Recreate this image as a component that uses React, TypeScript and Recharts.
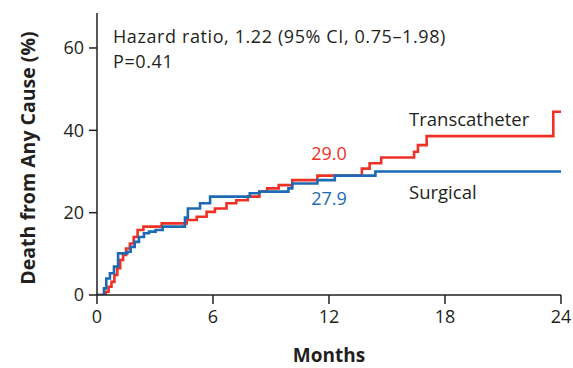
import { Label, Line, LineChart, ReferenceDot, XAxis, YAxis } from "recharts"

// Kaplan-Meier cumulative incidence, death from any cause
const monthTicks = [0, 6, 12, 18, 24]
const pctTicks = [0, 20, 40, 60]

const transcatheterMonths = [
  0, 0.45, 0.6, 0.75, 0.9, 1.05, 1.2, 1.35, 1.5, 1.7, 1.9, 2.1, 2.4, 3.35, 4.64, 5.16, 5.67, 6.1, 6.7,
  7.2, 7.8, 8.4, 8.8, 9.4, 10.1, 11.4, 13.7, 14.1, 14.7, 16.4, 16.6, 17.05, 23.6, 24,
]
const transcatheterPct = [
  0, 0.8, 2.0, 3.2, 4.9, 6.5, 8.5, 9.7, 11.3, 12.5, 14.1, 15.8, 16.6, 17.4, 18.2, 19.0, 20.2, 21.0, 22.3,
  23.0, 23.9, 25.1, 25.9, 26.7, 27.9, 29.0, 30.7, 32.0, 33.4, 34.8, 36.4, 38.6, 44.5, 44.5,
]

const surgicalMonths = [
  0, 0.36, 0.48, 0.67, 0.88, 1.09, 1.57, 1.74, 1.95, 2.17, 2.43, 2.69, 3.03, 3.4, 4.55, 4.7, 5.33, 5.85,
  7.9, 8.4, 9.9, 10.1, 11.4, 12.3, 14.4, 24,
]
const surgicalPct = [
  0, 1.6, 4.0, 5.3, 6.9, 10.1, 10.5, 11.7, 12.9, 14.1, 15.0, 15.4, 15.8, 16.6, 18.8, 21.0, 22.3, 23.9,
  24.7, 25.1, 25.9, 27.1, 27.9, 29.0, 30.0, 30.0,
]

const transcatheter = transcatheterMonths.map((m, i) => ({ month: m, pct: transcatheterPct[i] }))
const surgical = surgicalMonths.map((m, i) => ({ month: m, pct: surgicalPct[i] }))

const RED = "#ee3124"
const BLUE = "#1d6ab4"
const INK = "#231f20"
const FONT = "'Open Sans', sans-serif"

const tickStyle = { fontSize: 18, fill: INK, fontFamily: FONT }

export default function App() {
  return (
    <div
      style={{
        position: "absolute",
        left: 0,
        top: 0,
        width: 573,
        height: 368,
        background: "#fff",
        fontFamily: FONT,
        color: INK,
      }}
    >
      <LineChart width={573} height={368} margin={{ top: 13, right: 12, bottom: 0, left: 0 }}>
        <XAxis
          type="number"
          dataKey="month"
          domain={[0, 24]}
          ticks={monthTicks}
          allowDataOverflow
          height={73}
          tickSize={9}
          tickMargin={6}
          tick={tickStyle}
          axisLine={{ stroke: INK, strokeWidth: 1.5 }}
          tickLine={{ stroke: INK, strokeWidth: 1.5 }}
        >
          <Label
            value="Months"
            position="insideBottom"
            offset={6}
            style={{ fontSize: 19, fontWeight: 700, fill: INK, fontFamily: FONT }}
          />
        </XAxis>
        <YAxis
          type="number"
          dataKey="pct"
          domain={[0, 68.5]}
          ticks={pctTicks}
          allowDataOverflow
          width={97}
          tickSize={8}
          tickMargin={5}
          tick={tickStyle}
          axisLine={{ stroke: INK, strokeWidth: 1.5 }}
          tickLine={{ stroke: INK, strokeWidth: 1.5 }}
        />
        <Line
          data={transcatheter}
          dataKey="pct"
          type="stepAfter"
          stroke={RED}
          strokeWidth={2.6}
          dot={false}
          isAnimationActive={false}
        />
        <Line
          data={surgical}
          dataKey="pct"
          type="stepAfter"
          stroke={BLUE}
          strokeWidth={2.6}
          dot={false}
          isAnimationActive={false}
        />
        <ReferenceDot x={12} y={29.0} r={0} stroke="none" fill="none">
          <Label value="29.0" position="top" offset={16} style={{ fontSize: 18, fill: RED, fontFamily: FONT }} />
        </ReferenceDot>
        <ReferenceDot x={12} y={27.9} r={0} stroke="none" fill="none">
          <Label value="27.9" position="bottom" offset={12} style={{ fontSize: 18, fill: BLUE, fontFamily: FONT }} />
        </ReferenceDot>
      </LineChart>

      <div
        style={{
          position: "absolute",
          left: 27,
          top: 158,
          transform: "translate(-50%, -50%) rotate(-90deg)",
          whiteSpace: "nowrap",
          fontSize: 19.5,
          fontWeight: 700,
        }}
      >
        Death from Any Cause (%)
      </div>
      <div
        style={{
          position: "absolute",
          left: 113,
          top: 27,
          fontSize: 18,
          lineHeight: "18px",
          letterSpacing: 0.6,
          whiteSpace: "nowrap",
        }}
      >
        Hazard ratio, 1.22 (95% CI, 0.75–1.98)
      </div>
      <div style={{ position: "absolute", left: 113, top: 52, fontSize: 18, lineHeight: "18px", letterSpacing: 0.6 }}>
        P=0.41
      </div>
      <div style={{ position: "absolute", left: 409, top: 106, fontSize: 18.5 }}>Transcatheter</div>
      <div style={{ position: "absolute", left: 409, top: 179, fontSize: 18.5 }}>Surgical</div>
    </div>
  )
}
